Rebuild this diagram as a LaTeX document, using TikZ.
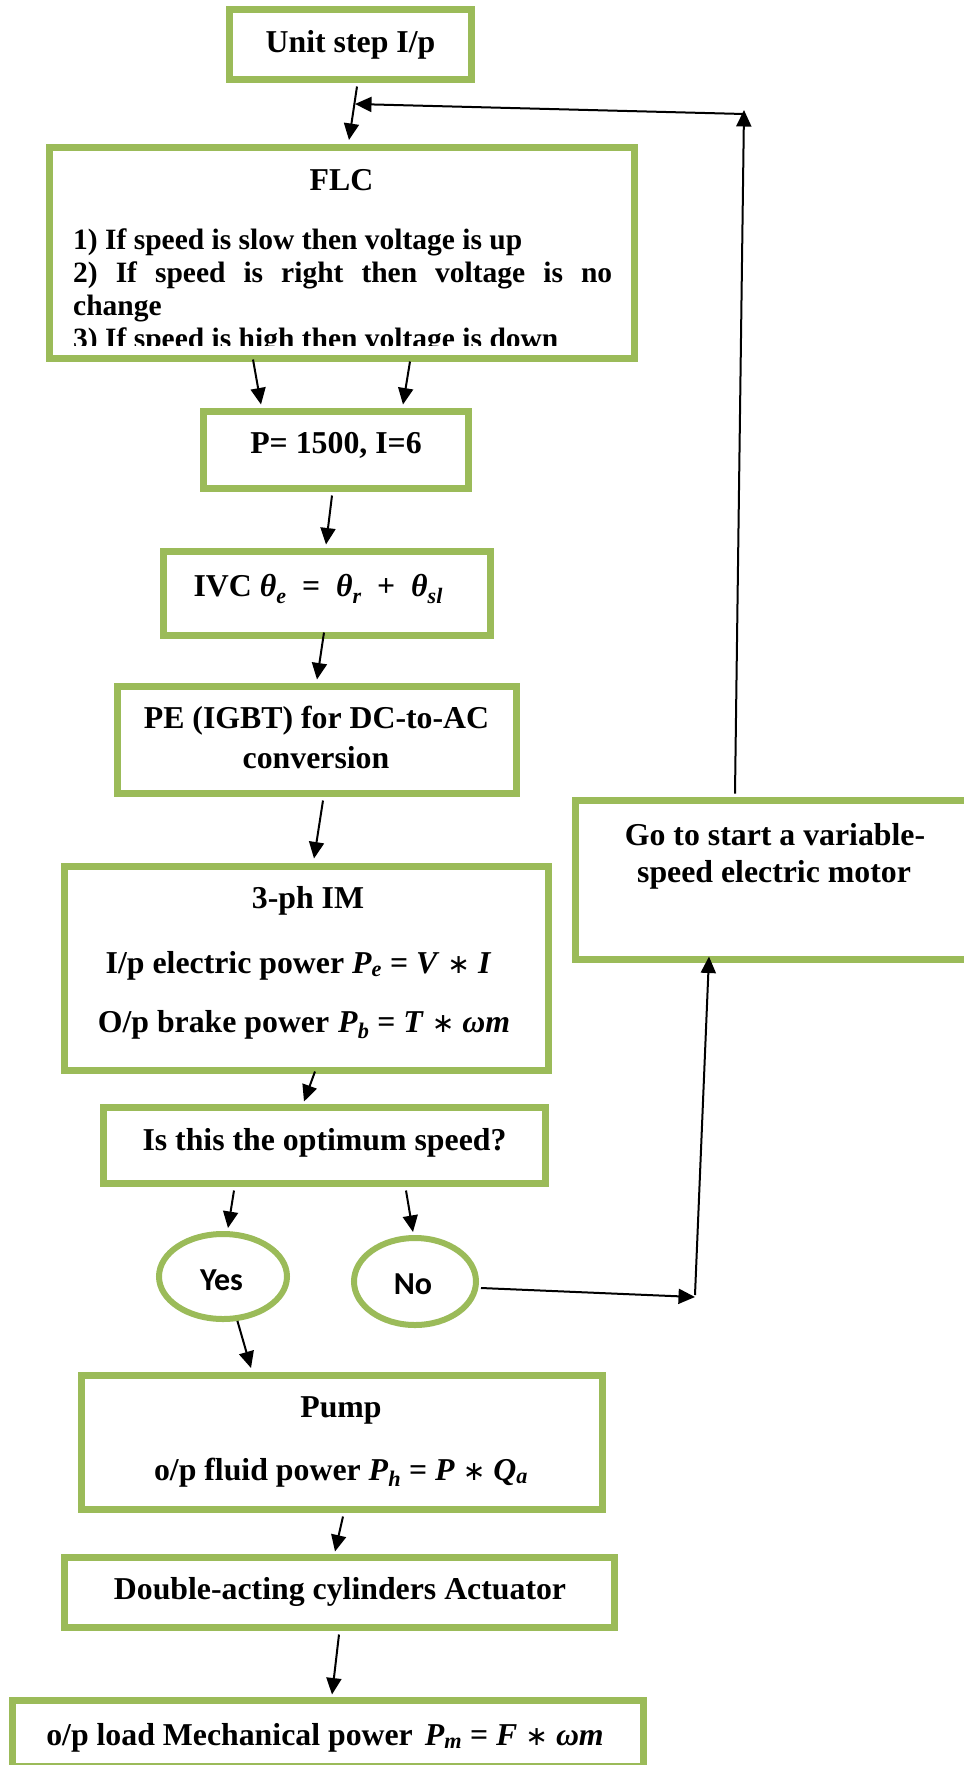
\documentclass[tikz,border=0pt]{standalone}
\usepackage{fontspec}
\setmainfont{Liberation Serif}
\newfontfamily\calib{Carlito}
\newfontfamily\djv{DejaVu Sans}
\newcommand\iv[1]{\textit{#1}}
\newcommand\sbi[1]{\textsubscript{\textit{#1}}}
\newcommand\sbib[1]{\raisebox{-0.22em}{\fontsize{22}{24}\selectfont\textit{#1}}}
\newcommand\astr{{\djv\mdseries\scalebox{0.85}{∗}}}
\usetikzlibrary{shapes.geometric,arrows.meta}
\definecolor{boxgreen}{HTML}{9BBB59}
\begin{document}
\begin{tikzpicture}[x=1pt,y=-1pt,
  gbox/.style={draw=boxgreen, line width=7pt, rectangle, inner sep=0pt, fill=white},
  goval/.style={draw=boxgreen, line width=6pt, ellipse, inner sep=0pt, fill=white},
  txt/.style={inner sep=0pt, anchor=base, font=\fontsize{31.8}{38}\selectfont\bfseries},
  ruletxt/.style={inner sep=0pt, anchor=base west, font=\fontsize{29.5}{33}\selectfont\bfseries},
  yntxt/.style={inner sep=0pt, anchor=base, font=\fontsize{32}{36}\selectfont\calib\bfseries},
  arr/.style={line width=2pt, -{Triangle[length=16.5pt,width=15pt]}},
]
\useasboundingbox (0,0) rectangle (964,1765);
\begin{scope}
\clip (0,0) rectangle (964,1765);

% boxes
\node[gbox, minimum width=242pt, minimum height=70pt] (unit) at (350.5,44.5) {};
\node[gbox, minimum width=585pt, minimum height=211pt] (flc) at (342,253) {};
\node[gbox, minimum width=265pt, minimum height=77pt] (pbox) at (336,450) {};
\node[gbox, minimum width=327pt, minimum height=84pt] (ivc) at (327,593.5) {};
\node[gbox, minimum width=399pt, minimum height=107pt] (pe) at (317,740) {};
\node[gbox, minimum width=484pt, minimum height=204pt] (im) at (306.5,968.5) {};
\node[gbox, minimum width=442pt, minimum height=76pt] (opt) at (324.5,1145.5) {};
\node[gbox, minimum width=399pt, minimum height=159pt] (go) at (775,880) {};
\node[goval, minimum width=128pt, minimum height=85pt] (yes) at (223,1276.5) {};
\node[goval, minimum width=122pt, minimum height=87pt] (no) at (415,1281.5) {};
\node[gbox, minimum width=521pt, minimum height=134pt] (pump) at (342,1442.5) {};
\node[gbox, minimum width=550pt, minimum height=70pt] (dbl) at (339.5,1592.5) {};
\node[gbox, minimum width=631pt, minimum height=66pt] (load) at (328,1733.5) {};

% texts
\node[txt] (tunit) at (350.5,52) {Unit step I/p};
\node[txt] (tflc) at (341.5,190) {FLC};
\node[ruletxt] (r1) at (73,249) {1) If speed is slow then voltage is up};
\node[ruletxt] (r2) at (73,282.5) {\makebox[539pt][s]{2) If speed is right then voltage is no}};
\node[ruletxt] (r3) at (73,315.5) {change};
\begin{scope}
\clip (60,150) rectangle (630,345.5);
\node[ruletxt] (r4) at (73,348.5) {3) If speed is high then voltage is down};
\end{scope}
\node[txt] (tp) at (336,453) {P= 1500, I=6};
\node[txt] (tivc) at (318,596) {IVC \iv{θ}\sbib{e}\enspace=\enspace\iv{θ}\sbib{r}\enspace+\enspace\iv{θ}\sbib{sl}};
\node[txt] (tpe1) at (316.5,728) {PE (IGBT) for DC-to-AC};
\node[txt] (tpe2) at (316,768) {conversion};
\node[txt] (tim1) at (308,908) {3-ph IM};
\node[txt] (tim2) at (298.5,973) {I/p electric power \iv{P}\sbi{e} = \iv{V} \astr{} \iv{I}};
\node[txt] (tim3) at (304,1032) {O/p brake power\hspace{1pt} \iv{P}\sbi{b} = \iv{T} \astr{} \iv{ωm}};
\node[txt] (topt) at (324.5,1150) {Is this the optimum speed?};
\node[txt] (tgo1) at (775,845) {Go to start a variable-};
\node[txt] (tgo2) at (774,882) {speed electric motor};
\node[yntxt] (tyes) at (221.5,1290) {Yes};
\node[yntxt] (tno) at (413,1294) {No};
\node[txt] (tpump1) at (341,1417) {Pump};
\node[txt] (tpump2) at (341,1480) {o/p fluid power \iv{P}\sbi{h} = \iv{P} \astr{} \iv{Q}\sbi{a}};
\node[txt] (tdbl) at (340,1599) {Double-acting cylinders Actuator};
\node[txt] (tload) at (325,1745) {o/p load Mechanical power\hspace{4pt} \iv{P}\sbi{m} = \iv{F} \astr{} \iv{ωm}};

% connectors
\coordinate (fbtop) at (744,110);
\coordinate (fbend) at (355,104);
\coordinate (nocorner) at (695,1297);
\draw[arr] ([xshift=6.5pt,yshift=-3.5pt]unit.south) -- ([xshift=7pt,yshift=4pt]flc.north);
\draw[arr] ([xshift=-40pt,yshift=3.5pt]go.north) -- (fbtop);
\draw[arr] ([yshift=-4pt]fbtop) -- (fbend);
\draw[arr] ([xshift=-89pt,yshift=2.5pt]flc.south) -- ([xshift=-75pt,yshift=3.5pt]pbox.north);
\draw[arr] ([xshift=68pt,yshift=0.5pt]flc.south) -- ([xshift=67pt,yshift=3.5pt]pbox.north);
\draw[arr] ([xshift=-4pt,yshift=-3.5pt]pbox.south) -- ([xshift=-1pt,yshift=3.5pt]ivc.north);
\draw[arr] ([xshift=-3pt,yshift=6.5pt]ivc.south) -- ([yshift=3.5pt]pe.north);
\draw[arr] ([xshift=6pt,yshift=-3.5pt]pe.south) -- ([xshift=7.5pt,yshift=4.5pt]im.north);
\draw[arr] ([xshift=8.5pt,yshift=2.5pt]im.south) -- ([xshift=-20.5pt,yshift=2.5pt]opt.north);
\draw[arr] ([xshift=-90.5pt,yshift=-3.5pt]opt.south) -- ([xshift=5pt,yshift=3pt]yes.north);
\draw[arr] ([xshift=81.5pt,yshift=-3.5pt]opt.south) -- ([xshift=-2pt,yshift=3pt]no.north);
\draw[arr] ([xshift=2pt,yshift=-6.5pt]no.east) -- (nocorner);
\draw[arr] ([yshift=2pt]nocorner) -- ([xshift=-66pt,yshift=6.5pt]go.south);
\draw[arr] (yes.-72) -- ([xshift=-91pt,yshift=4pt]pump.north);
\draw[arr] ([xshift=1pt,yshift=-3.5pt]pump.south) -- ([xshift=-4.5pt,yshift=2.5pt]dbl.north);
\draw[arr] ([xshift=-0.5pt,yshift=-3.5pt]dbl.south) -- ([xshift=4pt,yshift=2.5pt]load.north);
\end{scope}
\end{tikzpicture}
\end{document}
